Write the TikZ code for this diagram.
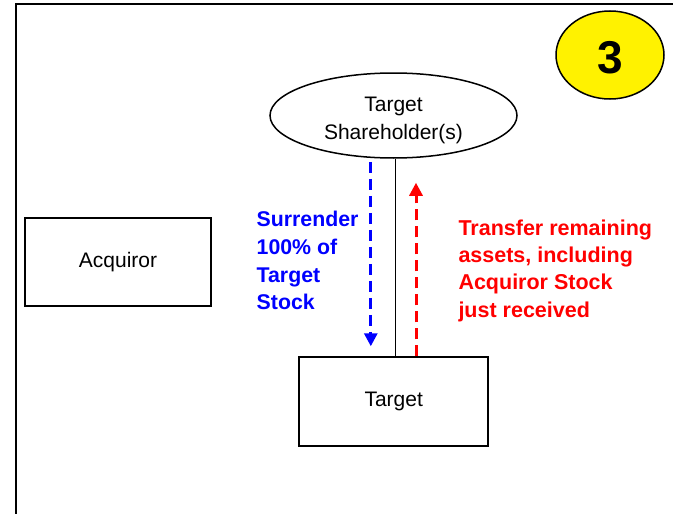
\documentclass[tikz,border=0pt]{standalone}
\usepackage{fontspec}
\setmainfont{Liberation Sans}
\usetikzlibrary{arrows.meta,shapes.geometric}
\begin{document}
\begin{tikzpicture}[x=1pt,y=-1pt,
  every node/.style={font=\fontsize{21}{28}\selectfont},
  boxnode/.style={draw,line width=1.5pt,rectangle,inner sep=0pt},
  ellnode/.style={draw,line width=1.5pt,ellipse,inner sep=0pt},
  flowarrow/.style={line width=3pt,dash pattern=on 11pt off 6pt,-{Triangle[width=13pt,length=13pt]}},
  bluetext/.style={text=blue,align=left,anchor=north west,inner sep=0pt,font=\fontsize{21.3}{27.7}\selectfont\bfseries},
  redtext/.style={text=red,align=left,anchor=north west,inner sep=0pt,font=\fontsize{21.5}{27.3}\selectfont\bfseries}]
\useasboundingbox (0,0) rectangle (673,514);
\fill[white] (0,0) rectangle (673,514);
% frame
\draw[line width=2pt] (16,514) -- (16,4) -- (673,4);
% number badge
\node[ellnode,fill=yellow,minimum width=108pt,minimum height=88pt] (num) at (610,55) {};
\node[font=\fontsize{46}{46}\selectfont\bfseries] (numtxt) at (610,58) {3};
% shareholders
\node[ellnode,minimum width=247pt,minimum height=85pt] (sh) at (393.5,115.5) {};
\node[align=center,inner sep=0pt] (shtxt) at (393.5,120) {Target\\Shareholder(s)};
% boxes
\node[boxnode,minimum width=186pt,minimum height=88pt] (acq) at (118,262) {Acquiror};
\node[boxnode,minimum width=189pt,minimum height=89pt] (tgt) at (393.7,401.5) {Target};
% connecting line
\draw[line width=1.2pt] ([xshift=1.6pt]sh.south) -- ([xshift=1.6pt]sh.south |- tgt.north);
% arrows
\draw[flowarrow,blue,shorten <=3pt,shorten >=10pt] ([xshift=-22.7pt]sh.south) -- ([xshift=-22.7pt]sh.south |- tgt.north);
\draw[flowarrow,red,shorten >=24pt] ([xshift=22.3pt]tgt.north) -- ([xshift=22.3pt]tgt.north |- sh.south);
% labels
\node[bluetext] (lblblue) at (256.5,211) {Surrender\\100\% of\\Target\\Stock};
\node[redtext] (lblred) at (458.3,219.5) {Transfer remaining\\assets, including\\Acquiror Stock\\just received};
\end{tikzpicture}
\end{document}
